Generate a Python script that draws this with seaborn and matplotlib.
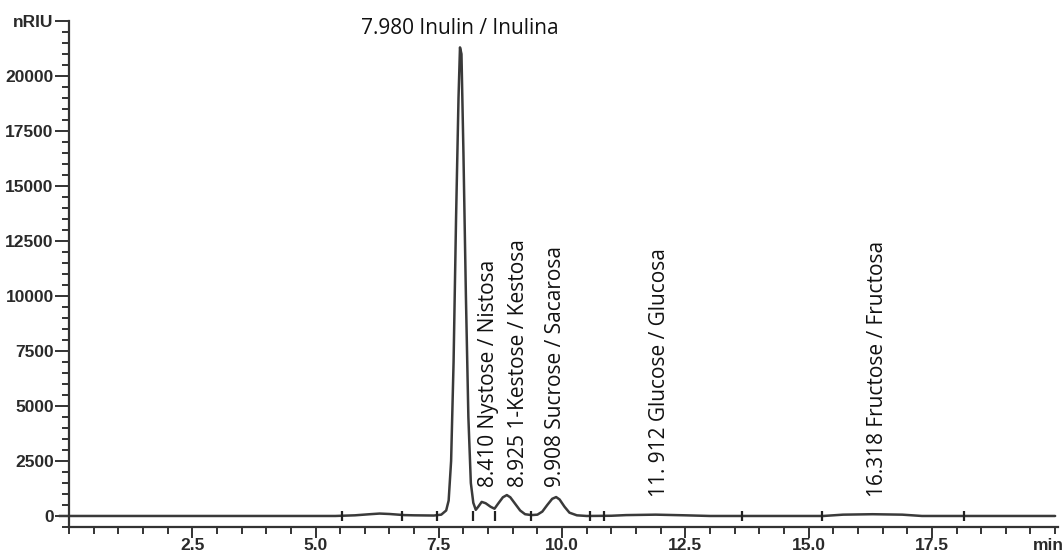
import matplotlib
matplotlib.use('Agg')
import matplotlib.pyplot as plt
from matplotlib.ticker import MultipleLocator, FixedLocator
import pandas as pd
import seaborn as sns

# chromatogram trace (time in min, signal in nRIU)
time_min = [-0.2, 0.0, 2.0, 4.0, 5.4, 5.8, 6.1, 6.3, 6.5, 6.8, 7.0, 7.4, 7.55, 7.65,
            7.7, 7.75, 7.8, 7.85, 7.9, 7.93, 7.96, 8.0, 8.05, 8.1, 8.15, 8.2, 8.25,
            8.3, 8.37, 8.45, 8.55, 8.63, 8.7, 8.8, 8.88, 8.95, 9.05, 9.15, 9.25, 9.38,
            9.5, 9.6, 9.7, 9.8, 9.88, 9.95, 10.05, 10.15, 10.3, 10.5, 11.0, 11.3, 11.9,
            12.5, 13.0, 15.3, 15.5, 15.7, 16.3, 16.9, 17.1, 17.3, 18.0, 20.0]
signal_nriu = [0, 0, 0, 0, 0, 30, 80, 110, 90, 40, 30, 20, 60, 250,
               700, 2500, 7000, 13500, 19000, 21300, 21000, 16500, 10000, 4500, 1500, 600, 280,
               420, 640, 580, 420, 330, 550, 850, 950, 850, 550, 250, 80, 40,
               60, 200, 500, 780, 860, 750, 420, 150, 30, 0, 10, 40, 60,
               30, 0, 0, 30, 60, 80, 60, 30, 0, 0, 0]

# integration event marks on the baseline
event_min = [5.54, 6.75, 7.46, 8.19, 8.63, 9.38, 10.56, 10.86, 13.65, 15.27, 18.15]

# peak labels
peak_x = [8.50, 9.12, 9.87, 11.98, 16.40]
peak_bottom = [1300, 1300, 1300, 850, 850]
peak_text = ['8.410 Nystose / Nistosa', '8.925 1-Kestose / Kestosa',
             '9.908 Sucrose / Sacarosa', '11. 912 Glucose / Glucosa',
             '16.318 Fructose / Fructosa']
main_label = '7.980 Inulin / Inulina'

y_ticks = [0, 2500, 5000, 7500, 10000, 12500, 15000, 17500, 20000, 22500]
y_labels = ['0', '2500', '5000', '7500', '10000', '12500', '15000', '17500', '20000', 'nRIU']
x_ticks = [2.5, 5.0, 7.5, 10.0, 12.5, 15.0, 17.5]

sns.set_style('ticks')
plt.rcParams['font.family'] = ['Liberation Sans', 'DejaVu Sans']

fig = plt.figure(figsize=(10.63, 5.56), dpi=100)
ax = fig.add_axes([0.0649, 0.0522, 0.930, 0.910])

df = pd.DataFrame({'time': time_min, 'signal': signal_nriu})
sns.lineplot(data=df, x='time', y='signal', ax=ax, color='#3a3a3a', linewidth=1.8,
             sort=False, estimator=None, clip_on=False)
ax.plot(event_min, [0] * len(event_min), linestyle='none', marker='|', markersize=7,
        markeredgewidth=1.6, color='#222222')

ax.set_xlim(0, 20.05)
ax.set_ylim(-500, 22500)
sns.despine(ax=ax)
for s in ['left', 'bottom']:
    ax.spines[s].set_linewidth(1.6)
    ax.spines[s].set_color('#333333')

ax.yaxis.set_major_locator(FixedLocator(y_ticks))
ax.set_yticklabels(y_labels)
ax.yaxis.set_minor_locator(MultipleLocator(500))
ax.xaxis.set_major_locator(FixedLocator(x_ticks))
ax.set_xticklabels([f'{t:.1f}' for t in x_ticks])
ax.xaxis.set_minor_locator(MultipleLocator(0.5))
ax.tick_params(which='major', length=10, width=1.4, color='#333333', labelsize=12.5,
               labelcolor='#2a2a2a', pad=1)
ax.tick_params(which='minor', length=5, width=1.4, color='#333333')
ax.tick_params(axis='x', which='major', length=8, pad=0)
for lab in ax.get_xticklabels() + ax.get_yticklabels():
    lab.set_fontweight('bold')
ax.text(19.87, -1000, 'min', ha='center', va='top', fontsize=12.5, fontweight='bold',
        color='#2a2a2a')
ax.set_xlabel('')
ax.set_ylabel('')

ax.text(7.93, 21700, main_label, ha='center', va='bottom', fontsize=15,
        family=['Open Sans', 'DejaVu Sans'], color='#111111')
for x, b, t in zip(peak_x, peak_bottom, peak_text):
    ax.text(x, b, t, rotation=90, ha='center', va='bottom', fontsize=15,
            family=['Open Sans', 'DejaVu Sans'], color='#111111')

fig.savefig('out.png', dpi=100)
